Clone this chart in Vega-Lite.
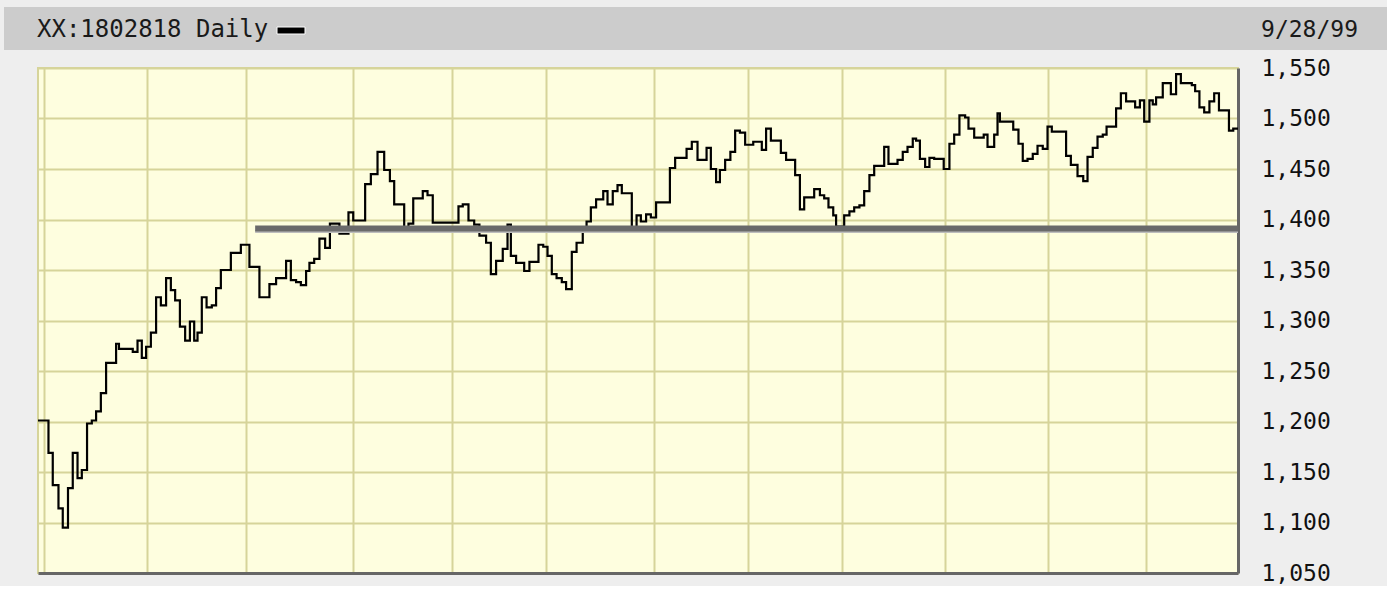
{
  "$schema": "https://vega.github.io/schema/vega-lite/v6.json",
  "background": "#eeeeee",
  "padding": {"left": 4, "top": 7, "right": 0, "bottom": 0},
  "autosize": {"type": "pad"},
  "bounds": "flush",
  "spacing": 18,
  "config": {"view": {"stroke": null}, "font": "DejaVu Sans Mono"},
  "datasets": {
    "header": [
      {"side": "left", "pos": 0, "label": "XX:1802818 Daily"},
      {"side": "right", "pos": 1, "label": "9/28/99"}
    ],
    "level": [{"from": 45.6, "to": 252, "level": 1391}],
    "series": [
      {"t": 0, "close": 1201}, {"t": 2.2, "close": 1169}, {"t": 3.1, "close": 1137}, {"t": 4.3, "close": 1114},
      {"t": 5.2, "close": 1095}, {"t": 6.3, "close": 1134}, {"t": 7.3, "close": 1169}, {"t": 8.3, "close": 1144},
      {"t": 9.2, "close": 1152}, {"t": 10.3, "close": 1198}, {"t": 11.3, "close": 1201}, {"t": 12.2, "close": 1210},
      {"t": 13.2, "close": 1228}, {"t": 14.3, "close": 1258}, {"t": 16.4, "close": 1277}, {"t": 17.0, "close": 1272},
      {"t": 19.9, "close": 1269}, {"t": 20.9, "close": 1280}, {"t": 21.8, "close": 1263}, {"t": 22.7, "close": 1274},
      {"t": 23.7, "close": 1288}, {"t": 24.8, "close": 1323}, {"t": 25.8, "close": 1315}, {"t": 26.9, "close": 1342},
      {"t": 27.9, "close": 1330}, {"t": 28.8, "close": 1320}, {"t": 29.8, "close": 1294}, {"t": 30.9, "close": 1280},
      {"t": 31.9, "close": 1299}, {"t": 32.8, "close": 1280}, {"t": 33.5, "close": 1288}, {"t": 34.4, "close": 1323},
      {"t": 35.4, "close": 1313}, {"t": 36.5, "close": 1315}, {"t": 37.4, "close": 1332}, {"t": 38.4, "close": 1350},
      {"t": 40.5, "close": 1367}, {"t": 42.6, "close": 1375}, {"t": 44.4, "close": 1353}, {"t": 46.5, "close": 1323},
      {"t": 48.6, "close": 1336}, {"t": 50.0, "close": 1342}, {"t": 52.1, "close": 1359}, {"t": 53.1, "close": 1340},
      {"t": 54.2, "close": 1338}, {"t": 55.2, "close": 1335}, {"t": 56.3, "close": 1349}, {"t": 57.0, "close": 1357},
      {"t": 58.0, "close": 1361}, {"t": 59.1, "close": 1381}, {"t": 60.3, "close": 1372}, {"t": 61.3, "close": 1396},
      {"t": 63.3, "close": 1386}, {"t": 65.2, "close": 1407}, {"t": 66.2, "close": 1399}, {"t": 68.7, "close": 1435},
      {"t": 69.9, "close": 1445}, {"t": 71.3, "close": 1467}, {"t": 72.7, "close": 1449}, {"t": 73.9, "close": 1438},
      {"t": 74.8, "close": 1415}, {"t": 76.9, "close": 1389}, {"t": 77.8, "close": 1396}, {"t": 78.8, "close": 1421},
      {"t": 80.8, "close": 1428}, {"t": 81.8, "close": 1424}, {"t": 82.9, "close": 1397}, {"t": 88.3, "close": 1413},
      {"t": 89.2, "close": 1415}, {"t": 90.4, "close": 1399}, {"t": 91.6, "close": 1395}, {"t": 92.7, "close": 1384},
      {"t": 94.1, "close": 1377}, {"t": 95.1, "close": 1346}, {"t": 96.2, "close": 1359}, {"t": 97.6, "close": 1371},
      {"t": 98.6, "close": 1395}, {"t": 99.3, "close": 1364}, {"t": 100.4, "close": 1357}, {"t": 102.1, "close": 1349},
      {"t": 103.2, "close": 1358}, {"t": 105.1, "close": 1375}, {"t": 106.1, "close": 1373}, {"t": 107.0, "close": 1364},
      {"t": 107.9, "close": 1346}, {"t": 108.9, "close": 1342}, {"t": 110.0, "close": 1338}, {"t": 110.9, "close": 1331},
      {"t": 112.1, "close": 1368}, {"t": 113.1, "close": 1377}, {"t": 114.4, "close": 1389}, {"t": 115.2, "close": 1398},
      {"t": 116.1, "close": 1412}, {"t": 117.2, "close": 1420}, {"t": 118.7, "close": 1428}, {"t": 119.6, "close": 1415},
      {"t": 120.7, "close": 1428}, {"t": 121.7, "close": 1434}, {"t": 122.6, "close": 1426}, {"t": 124.7, "close": 1388},
      {"t": 125.7, "close": 1404}, {"t": 126.6, "close": 1398}, {"t": 127.7, "close": 1405}, {"t": 128.7, "close": 1402},
      {"t": 129.8, "close": 1417}, {"t": 132.7, "close": 1451}, {"t": 133.8, "close": 1461}, {"t": 136.2, "close": 1470},
      {"t": 137.3, "close": 1477}, {"t": 138.5, "close": 1459}, {"t": 140.4, "close": 1471}, {"t": 141.3, "close": 1450},
      {"t": 142.4, "close": 1437}, {"t": 143.2, "close": 1449}, {"t": 144.3, "close": 1459}, {"t": 145.4, "close": 1467},
      {"t": 146.4, "close": 1488}, {"t": 147.4, "close": 1486}, {"t": 148.5, "close": 1474}, {"t": 150.2, "close": 1477},
      {"t": 152.0, "close": 1469}, {"t": 152.9, "close": 1490}, {"t": 153.9, "close": 1478}, {"t": 156.0, "close": 1466},
      {"t": 157.1, "close": 1459}, {"t": 159.0, "close": 1444}, {"t": 160.0, "close": 1410}, {"t": 160.9, "close": 1422},
      {"t": 163.0, "close": 1430}, {"t": 164.2, "close": 1424}, {"t": 165.1, "close": 1421}, {"t": 166.0, "close": 1412},
      {"t": 167.0, "close": 1404}, {"t": 167.6, "close": 1393}, {"t": 169.3, "close": 1404}, {"t": 170.4, "close": 1408},
      {"t": 171.4, "close": 1412}, {"t": 172.5, "close": 1414}, {"t": 173.5, "close": 1428}, {"t": 174.6, "close": 1444},
      {"t": 175.6, "close": 1453}, {"t": 177.7, "close": 1472}, {"t": 178.6, "close": 1455}, {"t": 180.5, "close": 1459},
      {"t": 181.6, "close": 1467}, {"t": 182.6, "close": 1472}, {"t": 183.7, "close": 1480}, {"t": 184.4, "close": 1478},
      {"t": 185.2, "close": 1460}, {"t": 186.3, "close": 1452}, {"t": 187.2, "close": 1461}, {"t": 188.2, "close": 1460},
      {"t": 190.2, "close": 1450}, {"t": 191.4, "close": 1475}, {"t": 192.4, "close": 1484}, {"t": 193.5, "close": 1503},
      {"t": 194.7, "close": 1501}, {"t": 195.4, "close": 1490}, {"t": 196.6, "close": 1481}, {"t": 198.6, "close": 1484},
      {"t": 199.4, "close": 1472}, {"t": 200.8, "close": 1484}, {"t": 201.5, "close": 1505}, {"t": 202.0, "close": 1497},
      {"t": 204.8, "close": 1489}, {"t": 205.9, "close": 1475}, {"t": 206.8, "close": 1458}, {"t": 207.8, "close": 1460},
      {"t": 208.9, "close": 1465}, {"t": 209.9, "close": 1473}, {"t": 211.0, "close": 1470}, {"t": 212.0, "close": 1492},
      {"t": 212.9, "close": 1487}, {"t": 215.9, "close": 1463}, {"t": 216.9, "close": 1454}, {"t": 218.3, "close": 1443},
      {"t": 219.5, "close": 1438}, {"t": 220.4, "close": 1462}, {"t": 221.5, "close": 1471}, {"t": 222.5, "close": 1482},
      {"t": 223.6, "close": 1484}, {"t": 224.4, "close": 1492}, {"t": 226.4, "close": 1510}, {"t": 227.4, "close": 1525},
      {"t": 228.5, "close": 1517}, {"t": 230.4, "close": 1511}, {"t": 231.4, "close": 1518}, {"t": 232.3, "close": 1497},
      {"t": 233.4, "close": 1518}, {"t": 234.1, "close": 1514}, {"t": 234.8, "close": 1521}, {"t": 236.2, "close": 1535},
      {"t": 237.9, "close": 1524}, {"t": 239.0, "close": 1544}, {"t": 240.0, "close": 1535}, {"t": 242.3, "close": 1533},
      {"t": 243.0, "close": 1527}, {"t": 243.9, "close": 1511}, {"t": 244.9, "close": 1506}, {"t": 246.0, "close": 1517},
      {"t": 247.0, "close": 1525}, {"t": 248.0, "close": 1508}, {"t": 250.1, "close": 1488}, {"t": 251.0, "close": 1490},
      {"t": 252.0, "close": 1490}
    ]
  },
  "vconcat": [
    {
      "width": 1383,
      "height": 43,
      "view": {"fill": "#cccccc", "stroke": null},
      "data": {"name": "header"},
      "layer": [
        {
          "transform": [{"filter": "datum.side === 'left'"}],
          "mark": {"type": "text", "align": "left", "baseline": "middle", "dx": 33, "dy": 1, "fontSize": 24, "font": "DejaVu Sans Mono", "color": "#1a1a1a"},
          "encoding": {
            "x": {"field": "pos", "type": "quantitative", "scale": {"domain": [0, 1]}, "axis": null},
            "text": {"field": "label"}
          }
        },
        {
          "transform": [{"filter": "datum.side === 'left'"}],
          "mark": {"type": "point", "shape": "M-1,-0.25H1V0.25H-1Z", "size": 784, "filled": true, "fill": "#000000", "stroke": "#ffffff", "strokeWidth": 1, "opacity": 1, "xOffset": 287, "yOffset": 2},
          "encoding": {
            "x": {"field": "pos", "type": "quantitative", "scale": {"domain": [0, 1]}, "axis": null}
          }
        },
        {
          "transform": [{"filter": "datum.side === 'right'"}],
          "mark": {"type": "text", "align": "right", "baseline": "middle", "dx": -29, "dy": 1, "fontSize": 23, "font": "DejaVu Sans Mono", "color": "#1a1a1a"},
          "encoding": {
            "x": {"field": "pos", "type": "quantitative", "scale": {"domain": [0, 1]}, "axis": null},
            "text": {"field": "label"}
          }
        }
      ]
    },
    {
      "hconcat": [
        {
          "width": 34,
          "height": 505,
          "data": {"values": [{}]},
          "mark": {"type": "point", "opacity": 0},
          "encoding": {}
        },
        {
          "width": 1200,
          "height": 505,
          "view": {"fill": "#fefedf", "stroke": "#d6d49a", "strokeWidth": 2},
          "layer": [
            {
              "data": {"name": "series"},
              "mark": {"type": "line", "interpolate": "step-after", "color": "#000000", "strokeWidth": 2.2},
              "encoding": {
                "x": {
                  "field": "t", "type": "quantitative",
                  "scale": {"domain": [0, 252], "nice": false, "zero": false},
                  "axis": {
                    "orient": "bottom", "title": null, "labels": false, "ticks": false,
                    "values": [1.3, 22.9, 43.7, 66.2, 86.9, 106.6, 129.4, 149.1, 168.9, 190.5, 212.1, 232.7],
                    "grid": true, "gridColor": "#d6d49a", "gridWidth": 2, "gridOpacity": 1,
                    "domain": true, "domainColor": "#666666", "domainWidth": 3
                  }
                },
                "y": {
                  "field": "close", "type": "quantitative",
                  "scale": {"domain": [1050, 1550], "nice": false, "zero": false},
                  "axis": {
                    "orient": "right", "title": null, "format": ",d",
                    "values": [1050, 1100, 1150, 1200, 1250, 1300, 1350, 1400, 1450, 1500, 1550],
                    "ticks": false, "tickSize": 0, "labelPadding": 23,
                    "labelFont": "DejaVu Sans Mono", "labelFontSize": 23, "labelColor": "#111111",
                    "grid": true, "gridColor": "#d6d49a", "gridWidth": 2, "gridOpacity": 1,
                    "domain": true, "domainColor": "#666666", "domainWidth": 3
                  }
                }
              }
            },
            {
              "data": {"name": "level"},
              "mark": {"type": "rule", "color": "#bdbdbd", "strokeWidth": 3, "yOffset": 3},
              "encoding": {
                "x": {"field": "from", "type": "quantitative"},
                "x2": {"field": "to"},
                "y": {"field": "level", "type": "quantitative"}
              }
            },
            {
              "data": {"name": "level"},
              "mark": {"type": "rule", "color": "#6a6a6a", "strokeWidth": 6},
              "encoding": {
                "x": {"field": "from", "type": "quantitative"},
                "x2": {"field": "to"},
                "y": {"field": "level", "type": "quantitative"}
              }
            }
          ]
        }
      ],
      "spacing": 0,
      "bounds": "flush"
    }
  ]
}
